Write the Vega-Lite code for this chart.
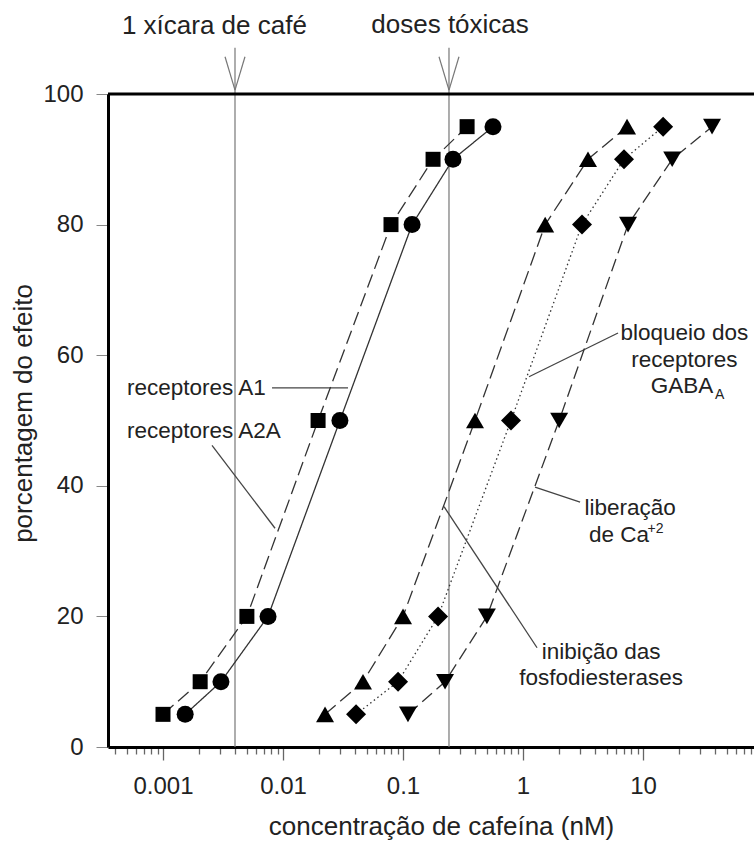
{
  "$schema": "https://vega.github.io/schema/vega-lite/v6.json",
  "autosize": {"type": "none"},
  "padding": {"left": 108, "top": 94, "right": 0, "bottom": 94},
  "width": 646,
  "height": 653,
  "background": "white",
  "config": {
    "view": {"stroke": null},
    "font": "Liberation Sans",
    "axis": {"labelFont": "Liberation Sans", "titleFont": "Liberation Sans", "grid": false}
  },
  "datasets": {
    "curves": [
      {"series": "A2A", "x": 0.001, "y": 5}, {"series": "A2A", "x": 0.00204, "y": 10}, {"series": "A2A", "x": 0.005, "y": 20}, {"series": "A2A", "x": 0.0196, "y": 50}, {"series": "A2A", "x": 0.0794, "y": 80}, {"series": "A2A", "x": 0.178, "y": 90}, {"series": "A2A", "x": 0.342, "y": 95},
      {"series": "A1", "x": 0.00153, "y": 5}, {"series": "A1", "x": 0.00304, "y": 10}, {"series": "A1", "x": 0.0075, "y": 20}, {"series": "A1", "x": 0.0298, "y": 50}, {"series": "A1", "x": 0.119, "y": 80}, {"series": "A1", "x": 0.261, "y": 90}, {"series": "A1", "x": 0.562, "y": 95},
      {"series": "PDE", "x": 0.0224, "y": 5}, {"series": "PDE", "x": 0.0464, "y": 10}, {"series": "PDE", "x": 0.1, "y": 20}, {"series": "PDE", "x": 0.398, "y": 50}, {"series": "PDE", "x": 1.53, "y": 80}, {"series": "PDE", "x": 3.48, "y": 90}, {"series": "PDE", "x": 7.36, "y": 95},
      {"series": "GABA", "x": 0.0406, "y": 5}, {"series": "GABA", "x": 0.0909, "y": 10}, {"series": "GABA", "x": 0.196, "y": 20}, {"series": "GABA", "x": 0.794, "y": 50}, {"series": "GABA", "x": 3.1, "y": 80}, {"series": "GABA", "x": 6.94, "y": 90}, {"series": "GABA", "x": 14.7, "y": 95},
      {"series": "Ca", "x": 0.11, "y": 5}, {"series": "Ca", "x": 0.224, "y": 10}, {"series": "Ca", "x": 0.5, "y": 20}, {"series": "Ca", "x": 2.0, "y": 50}, {"series": "Ca", "x": 7.5, "y": 80}, {"series": "Ca", "x": 17.5, "y": 90}, {"series": "Ca", "x": 37.6, "y": 95}
    ],
    "refs": [
      {"x": 0.00398, "x2": 0.00398, "y": 0, "y2": 107.1},
      {"x": 0.2416, "x2": 0.2416, "y": 0, "y2": 107.1},
      {"x": 0.003287, "x2": 0.00398, "y": 105.7, "y2": 100.6},
      {"x": 0.00482, "x2": 0.00398, "y": 105.7, "y2": 100.6},
      {"x": 0.1995, "x2": 0.2416, "y": 105.7, "y2": 100.6},
      {"x": 0.2926, "x2": 0.2416, "y": 105.7, "y2": 100.6}
    ],
    "leaders": [
      {"x": 0.0081, "y": 55.0, "x2": 0.0348, "y2": 55.0},
      {"x": 0.00256, "y": 46.2, "x2": 0.00858, "y2": 33.5},
      {"x": 6.19, "y": 63.4, "x2": 1.122, "y2": 56.7},
      {"x": 2.99, "y": 37.5, "x2": 1.259, "y2": 39.8},
      {"x": 1.309, "y": 15.2, "x2": 0.2198, "y2": 36.8}
    ],
    "labelsLeft": [
      {"x": 0.000501, "y": 53.9, "text": "receptores A1"},
      {"x": 0.000501, "y": 47.3, "text": "receptores A2A"}
    ],
    "labelsCenter": [
      {"x": 22.1, "y": 62.3, "text": "bloqueio dos"},
      {"x": 22.1, "y": 58.2, "text": "receptores"},
      {"x": 21.1, "y": 54.2, "text": "GABA"},
      {"x": 7.8, "y": 35.5, "text": "liberação"},
      {"x": 6.31, "y": 31.4, "text": "de Ca"},
      {"x": 4.47, "y": 13.5, "text": "inibição das"},
      {"x": 4.47, "y": 9.5, "text": "fosfodiesterases"}
    ],
    "labelsSmall": [
      {"x": 39.8, "y": 53.3, "text": "A"},
      {"x": 10.9, "y": 32.8, "text": "+2"}
    ],
    "labelsTop": [
      {"x": 0.00268, "y": 109.2, "text": "1 xícara de café"},
      {"x": 0.2466, "y": 109.4, "text": "doses tóxicas"}
    ],
    "frame": [{"x": 0.000348, "x2": 84.1, "y": 100}]
  },
  "resolve": {"axis": {"x": "independent"}},
  "encoding": {
    "x": {"field": "x", "type": "quantitative",
      "scale": {"type": "log", "domain": [0.000348, 84.1], "nice": false},
      "axis": null
    },
    "y": {"field": "y", "type": "quantitative",
      "scale": {"domain": [0, 100], "nice": false, "zero": false},
      "axis": {
        "values": [0, 20, 40, 60, 80, 100],
        "tickSize": 12,
        "tickColor": "#888",
        "tickWidth": 1,
        "labelFontSize": 24,
        "labelColor": "#222",
        "labelPadding": 13,
        "domainColor": "#000",
        "domainWidth": 3,
        "title": "porcentagem do efeito",
        "titleFontSize": 26,
        "titleFontWeight": "normal",
        "titleColor": "#222",
        "titleAngle": -90,
        "titleX": -85,
        "titleY": 319,
        "titleBaseline": "middle",
        "titleAlign": "center"
      }
    }
  },
  "layer": [
    {
      "data": {"name": "refs"},
      "mark": {"type": "rule", "color": "#777", "strokeWidth": 1.2, "clip": false},
      "encoding": {"x2": {"field": "x2"}, "y2": {"field": "y2"}}
    },
    {
      "data": {"name": "leaders"},
      "mark": {"type": "rule", "color": "#444", "strokeWidth": 1.3, "clip": false},
      "encoding": {"x2": {"field": "x2"}, "y2": {"field": "y2"}}
    },
    {
      "data": {"name": "curves"},
      "mark": {"type": "line", "color": "#333", "strokeWidth": 1.3, "interpolate": "linear", "clip": false},
      "encoding": {
        "x": {"field": "x", "type": "quantitative",
          "axis": {
            "orient": "bottom",
            "values": [0.0004, 0.0005, 0.0006, 0.0007, 0.0008, 0.0009,
                       0.002, 0.003, 0.004, 0.005, 0.006, 0.007, 0.008, 0.009,
                       0.02, 0.03, 0.04, 0.05, 0.06, 0.07, 0.08, 0.09,
                       0.2, 0.3, 0.4, 0.5, 0.6, 0.7, 0.8, 0.9,
                       2, 3, 4, 5, 6, 7, 8, 9,
                       20, 30, 40, 50, 60, 70, 80],
            "ticks": true,
            "tickSize": 7,
            "tickColor": "#666",
            "tickWidth": 1.3,
            "labels": false,
            "domain": false,
            "title": null
          }
        },
        "detail": {"field": "series"},
        "strokeDash": {"field": "series", "type": "nominal", "legend": null,
          "scale": {"domain": ["A1", "A2A", "PDE", "GABA", "Ca"], "range": [[1, 0], [14, 6], [14, 6], [1.5, 3], [13, 6]]}}
      }
    },
    {
      "data": {"name": "curves"},
      "mark": {"type": "point", "filled": true, "color": "#000", "opacity": 1, "clip": false},
      "encoding": {
        "x": {"field": "x", "type": "quantitative",
          "axis": {
            "orient": "bottom",
            "values": [0.001, 0.01, 0.1, 1, 10],
            "format": "~g",
            "ticks": true,
            "tickSize": 13,
            "labelOverlap": false,
            "labelFlush": false,
            "labelFontSize": 24,
            "labelColor": "#222",
            "labelPadding": 14,
            "tickColor": "#666",
            "tickWidth": 1.3,
            "domainColor": "#000",
            "domainWidth": 3,
            "title": "concentração de cafeína (nM)",
            "titleFontSize": 26,
            "titleFontWeight": "normal",
            "titleColor": "#222",
            "titleX": 333,
            "titleY": 87,
            "titleBaseline": "alphabetic",
            "titleAlign": "center"
          }
        },
        "shape": {"field": "series", "type": "nominal", "legend": null,
          "scale": {"domain": ["A1", "A2A", "PDE", "GABA", "Ca"], "range": ["circle", "square", "triangle-up", "diamond", "triangle-down"]}},
        "size": {"field": "series", "type": "nominal", "legend": null,
          "scale": {"type": "ordinal", "domain": ["A1", "A2A", "PDE", "GABA", "Ca"], "range": [289, 225, 324, 400, 324]}}
      }
    },
    {
      "data": {"name": "frame"},
      "mark": {"type": "rule", "color": "#000", "strokeWidth": 3, "clip": false},
      "encoding": {"x2": {"field": "x2"}}
    },
    {
      "data": {"name": "labelsLeft"},
      "mark": {"type": "text", "align": "left", "baseline": "alphabetic", "fontSize": 22.5, "color": "#222", "clip": false},
      "encoding": {"text": {"field": "text"}}
    },
    {
      "data": {"name": "labelsCenter"},
      "mark": {"type": "text", "align": "center", "baseline": "alphabetic", "fontSize": 22.5, "color": "#222", "clip": false},
      "encoding": {"text": {"field": "text"}}
    },
    {
      "data": {"name": "labelsSmall"},
      "mark": {"type": "text", "align": "left", "baseline": "alphabetic", "fontSize": 14, "color": "#222", "clip": false},
      "encoding": {"text": {"field": "text"}}
    },
    {
      "data": {"name": "labelsTop"},
      "mark": {"type": "text", "align": "center", "baseline": "alphabetic", "fontSize": 26, "color": "#222", "clip": false},
      "encoding": {"text": {"field": "text"}}
    }
  ]
}
